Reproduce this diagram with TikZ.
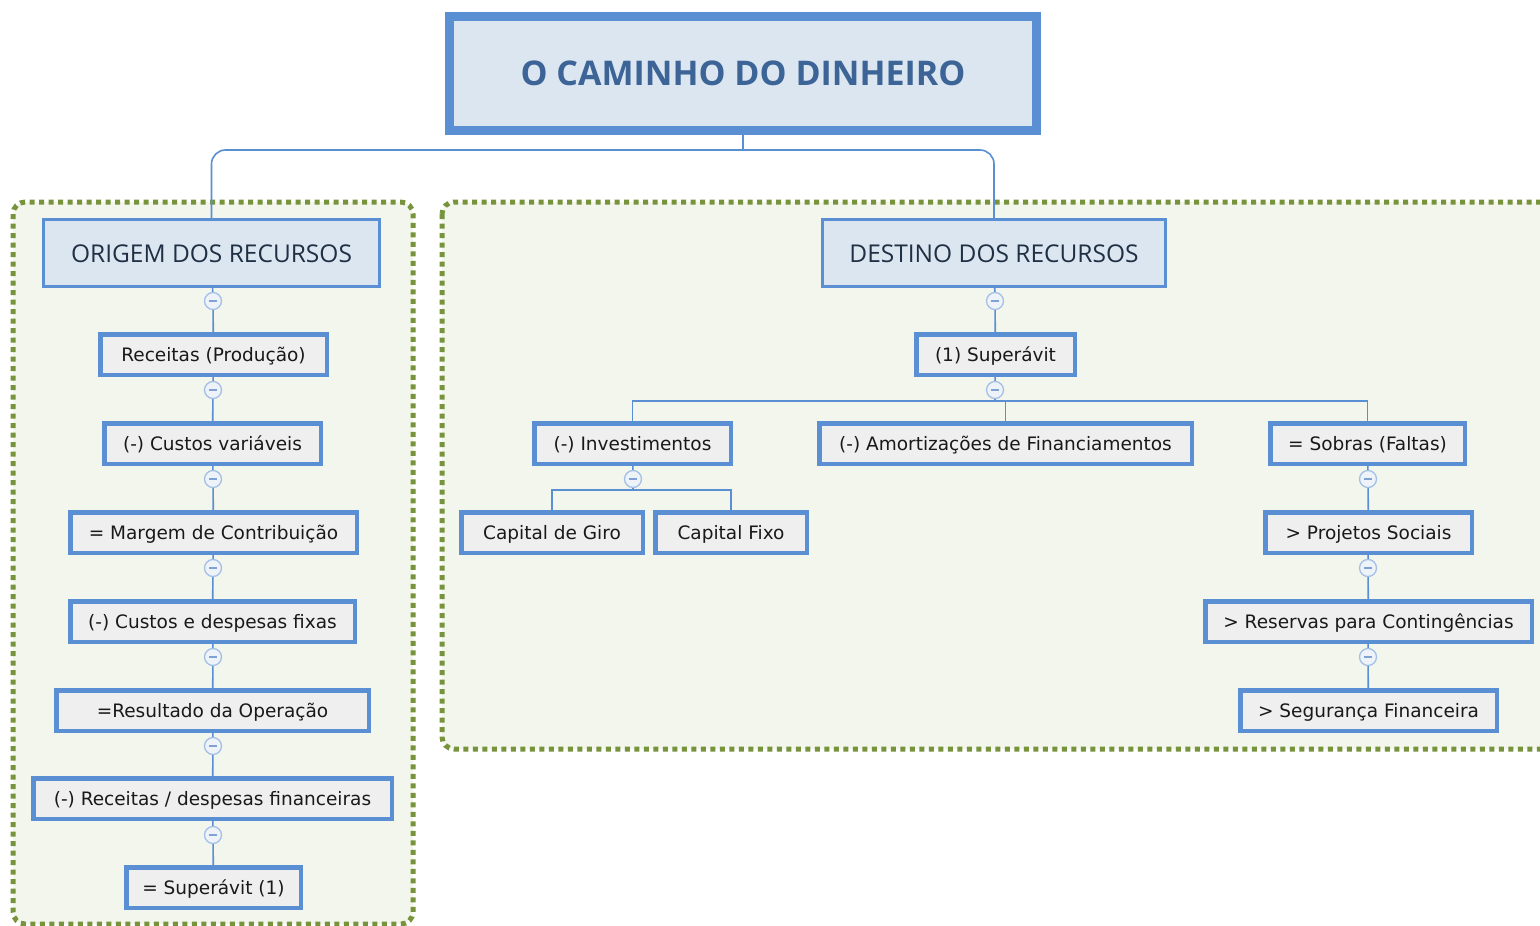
\documentclass[tikz,border=0pt]{standalone}
\usepackage{fontspec}
\setmainfont{DejaVu Sans}
\newfontfamily\titulofont{Open Sans}
\usetikzlibrary{positioning}

\definecolor{azulborda}{HTML}{5A8FD3}
\definecolor{azulclaro}{HTML}{DCE6F1}
\definecolor{azultitulo}{HTML}{3C6496}
\definecolor{azulescuro}{HTML}{1F3044}
\definecolor{cinzacaixa}{HTML}{EFEFEF}
\definecolor{azulbotao}{HTML}{A4C0E6}
\definecolor{sinalbotao}{HTML}{7FA1D4}
\definecolor{fundobotao}{HTML}{EEF3FA}
\definecolor{verdeborda}{HTML}{77933C}
\definecolor{verdefundo}{HTML}{F3F6EC}

\begin{document}
\begin{tikzpicture}[x=1pt, y=-1pt,
  caixa/.style={draw=azulborda, line width=4.5pt, fill=cinzacaixa, text=black!90,
    minimum height=40.5pt, inner xsep=0pt, text height=15pt, text depth=1pt,
    font=\fontsize{18.5}{21}\selectfont},
  cabecalho/.style={draw=azulborda, line width=3pt, fill=azulclaro, text=azulescuro,
    minimum height=67pt, text height=20pt, text depth=2pt,
    font=\titulofont\fontsize{24.5}{28}\selectfont},
  botao/.style={circle, draw=azulbotao, fill=fundobotao, line width=1.3pt,
    minimum size=17pt, inner sep=0pt},
  grupo/.style={draw=verdeborda, fill=verdefundo, line width=5pt,
    dash pattern=on 5pt off 4.5pt, rounded corners=12pt},
  conector/.style={draw=azulborda, line width=1.6pt}]

\useasboundingbox (0,0) rectangle (1540,926);

% grupos
\path[grupo] (13,202) rectangle (413,924);
\path[grupo] (442,202) rectangle (1570,749);

% titulo
\node[draw=azulborda, line width=9pt, fill=azulclaro, text=azultitulo,
  minimum width=587pt, minimum height=114pt,
  font=\titulofont\bfseries\fontsize{34}{40}\selectfont] (titulo) at (743,73) {O CAMINHO DO DINHEIRO};

\node[cabecalho, minimum width=336pt] (origem) at (211.5,253) {ORIGEM DOS RECURSOS};
\node[cabecalho, minimum width=343pt] (destino) at (994,253) {DESTINO DOS RECURSOS};

% origem dos recursos
\path
  node[caixa, minimum width=226.5pt] (receitas) at (213.5,354.5) {Receitas (Produção)}
  node[caixa, minimum width=216.5pt] (custosvar) at (212.5,443.5) {(-) Custos variáveis}
  node[caixa, minimum width=286.5pt] (margem) at (213.5,532.5) {= Margem de Contribuição}
  node[caixa, minimum width=284.5pt] (custosfix) at (212.5,621.5) {(-) Custos e despesas fixas}
  node[caixa, minimum width=312.5pt] (resultado) at (212.5,710.5) {=Resultado da Operação}
  node[caixa, minimum width=358.5pt] (financeiras) at (212.5,798.5) {(-) Receitas / despesas financeiras}
  node[caixa, minimum width=174.5pt] (superavitA) at (213.5,887.5) {= Superávit (1)};

% destino dos recursos
\path
  node[caixa, minimum width=158.5pt] (superavitB) at (995.5,354.5) {(1) Superávit}
  node[caixa, minimum width=196.5pt] (invest) at (632.5,443.5) {(-) Investimentos}
  node[caixa, minimum width=372.5pt] (amortiz) at (1005.5,443.5) {(-) Amortizações de Financiamentos}
  node[caixa, minimum width=194.5pt] (sobras) at (1367.5,443.5) {= Sobras (Faltas)}
  node[caixa, minimum width=181.5pt] (giro) at (552,532.5) {Capital de Giro}
  node[caixa, minimum width=151.5pt] (fixo) at (731,532.5) {Capital Fixo}
  node[caixa, minimum width=206.5pt] (projetos) at (1368.5,532.5) {> Projetos Sociais}
  node[caixa, minimum width=326.5pt] (reservas) at (1368.5,621.5) {> Reservas para Contingências}
  node[caixa, minimum width=256.5pt] (seguranca) at (1368.5,710.5) {> Segurança Financeira};

% botoes de recolher
\foreach \nome/\px/\py in {b1/213/301, b2/213/390, b3/213/479, b4/213/568, b5/213/657,
    b6/213/746, b7/213/835, b8/995/301, b9/995/390, b10/633/479, b11/1368/479,
    b12/1368/568, b13/1368/657}
  \node[botao] (\nome) at (\px,\py) {\textcolor{sinalbotao}{\rule{8pt}{2pt}}};

\coordinate (juncao) at (743,150);
\coordinate (ramoSup) at (995,401);
\coordinate (ramoInv) at (633,490);

\begin{scope}[conector]
	% titulo
	\draw (titulo.south) -- (juncao);
	\draw[rounded corners=14pt] (origem.north) |- (juncao) -| (destino.north);
	% origem
	\draw (origem) -- (b1) -- (receitas) -- (b2) -- (custosvar) -- (b3) -- (margem)
	  -- (b4) -- (custosfix) -- (b5) -- (resultado) -- (b6) -- (financeiras) -- (b7) -- (superavitA);
	% destino
	\draw (destino) -- (b8) -- (superavitB) -- (b9) -- (ramoSup);
	\draw (invest.north) |- (ramoSup) -| (sobras.north);
	\draw (ramoSup) -| (amortiz.north);
	\draw (invest) -- (b10) -- (ramoInv);
	\draw (giro.north) |- (ramoInv) -| (fixo.north);
	\draw (sobras) -- (b11) -- (projetos) -- (b12) -- (reservas) -- (b13) -- (seguranca);
\end{scope}

\end{tikzpicture}
\end{document}
